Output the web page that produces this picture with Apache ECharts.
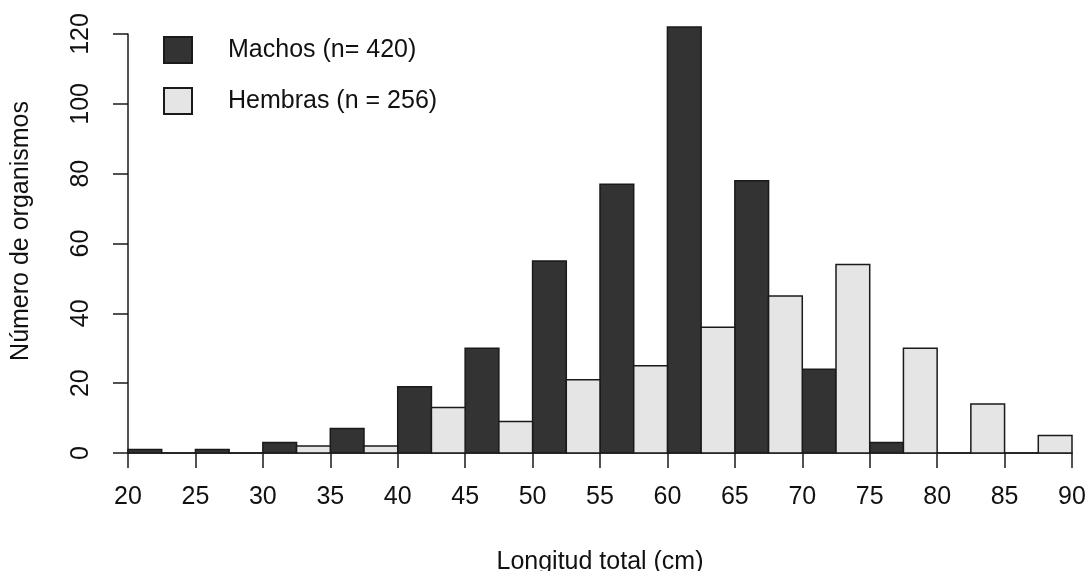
<!DOCTYPE html>
<html>
<head>
<meta charset="utf-8">
<script src="https://cdn.jsdelivr.net/npm/echarts@6/dist/echarts.min.js"></script>
<style>
  html, body { margin: 0; padding: 0; background: #fff; }
  #chart { width: 1088px; height: 571px; }
</style>
</head>
<body>
<div id="chart"></div>
<script>
// Length-frequency histogram: 5 cm classes, males and females side by side
const binStarts = [20, 25, 30, 35, 40, 45, 50, 55, 60, 65, 70, 75, 80, 85];
const machos    = [1, 1, 3, 7, 19, 30, 55, 77, 122, 78, 24, 3, 0, 0];
const hembras   = [0, 0, 2, 2, 13, 9, 21, 25, 36, 45, 54, 30, 14, 5];
const binWidth = 5;
const xTicks = [20, 25, 30, 35, 40, 45, 50, 55, 60, 65, 70, 75, 80, 85, 90];
const yTicks = [0, 20, 40, 60, 80, 100, 120];

const labelMachos = 'Machos (n= 420)';
const labelHembras = 'Hembras (n = 256)';
const colMachos = '#333333';
const colHembras = '#e5e5e5';
const edge = '#1a1a1a';
const font = '"Liberation Sans", Arial, sans-serif';
const fs = 25;

// each class is split in two halves: left = males, right = females
function makeData(values, half) {
  return binStarts.map((s, i) => [s + half * binWidth / 2, s + (half + 1) * binWidth / 2, values[i]]);
}

function renderBar(params, api) {
  const p0 = api.coord([api.value(0), 0]);
  const p1 = api.coord([api.value(1), api.value(2)]);
  return {
    type: 'rect',
    shape: { x: p0[0], y: p1[1], width: p1[0] - p0[0], height: p0[1] - p1[1] },
    style: api.style({ stroke: edge, lineWidth: 1.5 })
  };
}

const chart = echarts.init(document.getElementById('chart'), null, { renderer: 'canvas' });
chart.setOption({
  animation: false,
  backgroundColor: '#fff',
  textStyle: { fontFamily: font },
  grid: { left: 128, right: 16, top: 34, bottom: 118, containLabel: false, outerBoundsMode: 'none' },
  xAxis: {
    type: 'value', min: 20, max: 90, interval: 5,
    name: 'Longitud total (cm)', nameLocation: 'middle', nameGap: 97,
    nameTextStyle: { fontSize: fs, color: '#111', fontFamily: font },
    axisLine: { show: true, lineStyle: { color: edge, width: 1.5 } },
    axisTick: { show: true, length: 15, lineStyle: { color: edge, width: 1.5 } },
    axisLabel: { fontSize: fs, color: '#111', margin: 32, fontFamily: font,
      customValues: xTicks },
    splitLine: { show: false }
  },
  yAxis: {
    type: 'value', min: 0, max: 120, interval: 20,
    axisLine: { show: true, lineStyle: { color: edge, width: 1.5 } },
    axisTick: { show: true, length: 15, lineStyle: { color: edge, width: 1.5 } },
    axisLabel: { fontSize: fs, color: '#111', margin: 34, rotate: 90, fontFamily: font,
      customValues: yTicks },
    splitLine: { show: false }
  },
  legend: {
    orient: 'vertical', left: 158, top: 31,
    itemWidth: 28, itemHeight: 26, itemGap: 23,
    icon: 'rect',
    textStyle: { fontSize: fs, color: '#111', fontFamily: font, padding: [0, 0, 0, 31] },
    data: [labelMachos, labelHembras]
  },
  graphic: [{
    type: 'text',
    x: 21, y: 231, rotation: Math.PI / 2,
    style: { text: 'Número de organismos', fontSize: fs, fill: '#111', fontFamily: font,
      align: 'center', verticalAlign: 'middle' }
  }],
  series: [
    {
      name: labelMachos, type: 'custom', renderItem: renderBar,
      itemStyle: { color: colMachos, borderColor: edge, borderWidth: 1.5 },
      encode: { x: [0, 1], y: 2 },
      data: makeData(machos, 0)
    },
    {
      name: labelHembras, type: 'custom', renderItem: renderBar,
      itemStyle: { color: colHembras, borderColor: edge, borderWidth: 1.5 },
      encode: { x: [0, 1], y: 2 },
      data: makeData(hembras, 1)
    }
  ]
});
</script>
</body>
</html>
